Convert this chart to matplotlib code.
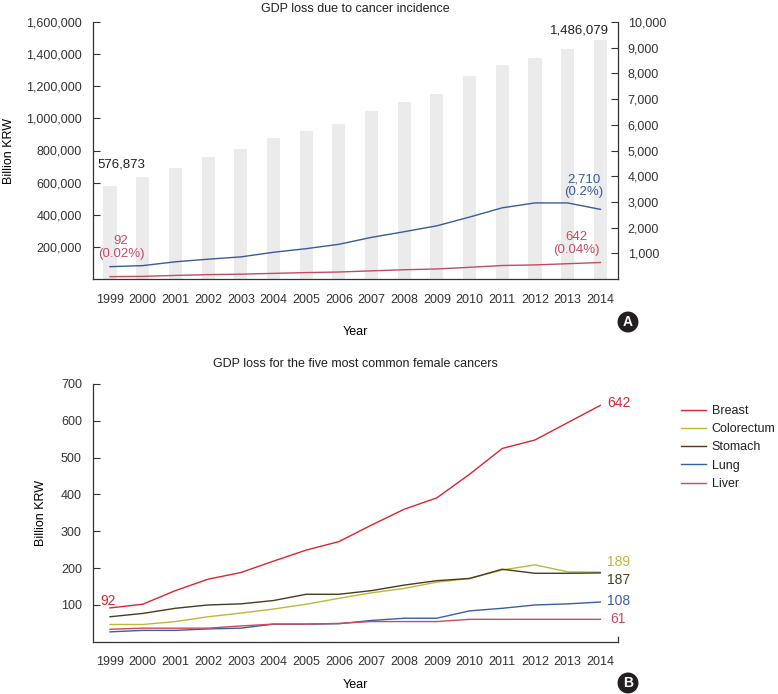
import numpy as np
import matplotlib
matplotlib.use('Agg')
import matplotlib.pyplot as plt
from matplotlib.ticker import FuncFormatter

plt.rcParams['font.family'] = ['Liberation Sans', 'DejaVu Sans']
plt.rcParams['font.size'] = 9
plt.rcParams['text.color'] = '#231f20'

# datos
years = list(range(1999, 2015))
gdp = [576873, 635185, 688165, 761939, 810915, 876033, 919797, 966054,
       1043258, 1104492, 1151708, 1265308, 1332681, 1377457, 1429445, 1486079]
total_loss = [480, 520, 670, 770, 860, 1040, 1180, 1350, 1620, 1840, 2070,
              2410, 2770, 2960, 2960, 2710]
breast = [92, 102, 139, 170, 188, 219, 249, 272, 317, 360, 391, 455, 525, 548, 595, 642]
colorectum = [47, 47, 55, 68, 78, 89, 102, 118, 133, 145, 162, 172, 195, 209, 190, 189]
stomach = [68, 77, 91, 100, 103, 112, 129, 129, 139, 154, 166, 172, 197, 186, 186, 187]
lung = [27, 31, 31, 35, 37, 48, 48, 49, 58, 64, 64, 84, 91, 100, 103, 108]
liver = [34, 37, 37, 37, 43, 48, 48, 50, 55, 55, 55, 61, 61, 61, 61, 61]

cancer_names = ['Breast', 'Colorectum', 'Stomach', 'Lung', 'Liver']
cancer_colors = ['#d9262f', '#bdb835', '#4b3a1c', '#3b5f9f', '#c94a5c']
end_labels = ['642', '189', '187', '108', '61']
end_offsets = [(5, 2), (5, 7), (5, -5), (5, 1), (7, 0)]

blue = '#3b5a97'
pink = '#c24d60'
axis_col = '#333333'

fig = plt.figure(figsize=(7.78, 6.94), dpi=100)

# ---------------- grafica A ----------------
ax1 = fig.add_axes([93/778, 1-279/694, 525/778, 257/694])
ax2 = ax1.twinx()

ax1.bar(years, gdp, width=0.4, color='#ebebeb', zorder=1)
ax1.set_xlim(1998.48, 2014.54)
ax1.set_ylim(0, 1600000)
ax1.set_yticks(np.arange(200000, 1600001, 200000))
ax1.yaxis.set_major_formatter(FuncFormatter(lambda v, p: f'{int(v):,}'))
ax1.set_xticks(years)
ax1.set_ylabel('Billion KRW', labelpad=8)
ax1.set_xlabel('Year', labelpad=14)
ax1.set_title('GDP loss due to cancer incidence', pad=7, fontsize=9)

ax2.plot(years, total_loss, color=blue, lw=1)
ax2.plot(years, breast, color=pink, lw=1)
ax2.set_ylim(0, 10000)
ax2.set_yticks(np.arange(1000, 10001, 1000))
ax2.yaxis.set_major_formatter(FuncFormatter(lambda v, p: f'{int(v):,}'))

for a in (ax1, ax2):
    a.spines['top'].set_visible(False)
    for s in a.spines.values():
        s.set_color(axis_col)
        s.set_linewidth(0.9)
ax1.spines['right'].set_visible(False)
ax2.spines['left'].set_visible(False)
ax2.spines['bottom'].set_visible(False)
ax1.tick_params(axis='y', direction='in', length=5, pad=8, colors=axis_col, labelsize=9)
ax1.tick_params(axis='x', length=0, pad=11, colors=axis_col, labelsize=9)
ax2.tick_params(axis='y', direction='in', length=5, pad=7, colors=axis_col, labelsize=9)

# anotaciones
ax1.annotate(f'{gdp[0]:,}', (years[0], gdp[0]), xytext=(8, 16), textcoords='offset points',
             ha='center', va='center', fontsize=9.5)
ax1.annotate(f'{gdp[-1]:,}', (years[-1], gdp[-1]), xytext=(-15, 7), textcoords='offset points',
             ha='center', va='center', fontsize=9.5)
ax2.annotate('2,710\n(0.2%)', (years[-1], total_loss[-1]), xytext=(-12, 17), textcoords='offset points',
             ha='center', va='center', color=blue, fontsize=9.5, linespacing=1.1)
ax2.annotate('642\n(0.04%)', (years[-1], breast[-1]), xytext=(-17, 14), textcoords='offset points',
             ha='center', va='center', color=pink, fontsize=9.5, linespacing=1.1)
ax2.annotate('92\n(0.02%)', (years[0], breast[0]), xytext=(8, 21), textcoords='offset points',
             ha='center', va='center', color=pink, fontsize=9.5, linespacing=1.1)

# ---------------- grafica B ----------------
ax3 = fig.add_axes([93/778, 1-641.8/694, 525/778, 257.8/694])
series = [breast, colorectum, stomach, lung, liver]
for name, vals, col, lab, off in zip(cancer_names, series, cancer_colors, end_labels, end_offsets):
    ax3.plot(years, vals, color=col, lw=1, label=name)
    ax3.annotate(lab, (years[-1], vals[-1]), xytext=off, textcoords='offset points',
                 ha='left', va='center', color=col, fontsize=10)
ax3.annotate(str(breast[0]), (years[0], breast[0]), xytext=(-1, 5), textcoords='offset points',
             ha='center', va='center', color=cancer_colors[0], fontsize=10)

ax3.set_xlim(1998.48, 2014.54)
ax3.set_ylim(0, 700)
ax3.set_yticks(np.arange(100, 701, 100))
ax3.set_xticks(years)
ax3.set_ylabel('Billion KRW', labelpad=10)
ax3.set_xlabel('Year', labelpad=8)
ax3.set_title('GDP loss for the five most common female cancers', pad=12, fontsize=9)
ax3.spines['top'].set_visible(False)
ax3.spines['right'].set_visible(False)
for s in ax3.spines.values():
    s.set_color(axis_col)
    s.set_linewidth(0.9)
ax3.plot([1, 1], [0, 0.02], transform=ax3.transAxes, color=axis_col, lw=0.9, clip_on=False)
ax3.tick_params(axis='y', direction='in', length=5, pad=8, colors=axis_col, labelsize=9)
ax3.tick_params(axis='x', length=0, pad=10, colors=axis_col, labelsize=9)

ax3.legend(loc='upper left', bbox_to_anchor=(681/778, 1-405/694), bbox_transform=fig.transFigure,
           frameon=False, borderpad=0, borderaxespad=0, handlelength=2.0, handletextpad=0.45,
           labelspacing=0.5, fontsize=9)

# etiquetas de panel
for lab, yy in (('A', 322), ('B', 683)):
    fig.text(628/778, 1-yy/694, lab, ha='center', va='center', color='white', weight='bold',
             fontsize=10, bbox=dict(boxstyle='circle,pad=0.25', fc='#231f20', ec='none'))

fig.savefig('out.png', dpi=100)
